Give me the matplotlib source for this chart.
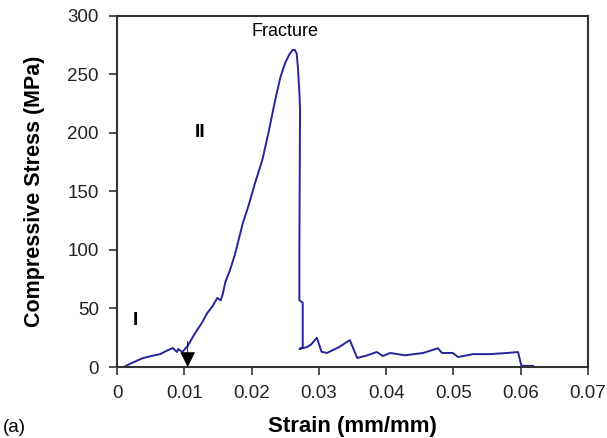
import matplotlib
matplotlib.use("Agg")
import matplotlib.pyplot as plt

plt.rcParams['font.family'] = ['Liberation Sans', 'DejaVu Sans']

# Compressive stress-strain curve
strain = [0.0010, 0.0019, 0.0030, 0.0039, 0.0052, 0.0064, 0.0076, 0.0083, 0.0089,
          0.0091, 0.0097, 0.0105, 0.0115, 0.0126, 0.0134, 0.0142, 0.0149, 0.0154,
          0.0157, 0.0161, 0.0168, 0.0175, 0.0187, 0.0195, 0.0205, 0.0216, 0.0225,
          0.0235, 0.0243, 0.0250, 0.0256, 0.0261, 0.0264, 0.0267, 0.0269, 0.0271,
          0.0272, 0.0271, 0.0271, 0.0276, 0.0276, 0.0271, 0.0282, 0.0288, 0.0297,
          0.0304, 0.0312, 0.0330, 0.0346, 0.0357, 0.0372, 0.0386, 0.0395, 0.0406,
          0.0428, 0.0455, 0.0477, 0.0483, 0.0499, 0.0507, 0.0529, 0.0554, 0.0580,
          0.0596, 0.0601, 0.0618]
stress = [0.0, 2.6, 5.5, 7.7, 9.5, 11.0, 14.5, 16.2, 12.8,
          15.4, 12.8, 18.0, 28.0, 37.6, 46.0, 52.0, 59.0, 57.0,
          62.0, 72.6, 83.0, 95.7, 123.0, 137.0, 157.0, 177.0, 200.0,
          228.0, 248.0, 260.0, 267.0, 271.0, 271.0, 268.0, 255.0, 235.0,
          220.0, 100.0, 57.0, 55.0, 17.0, 15.4, 17.0, 19.0, 25.0,
          13.0, 12.0, 17.0, 23.0, 7.7, 10.0, 12.8, 9.4, 12.0,
          10.0, 12.0, 16.0, 12.0, 12.0, 8.5, 11.0, 11.0, 12.0,
          12.8, 1.0, 1.0]

x_ticks = [0, 0.01, 0.02, 0.03, 0.04, 0.05, 0.06, 0.07]
x_tick_labels = ["0", "0.01", "0.02", "0.03", "0.04", "0.05", "0.06", "0.07"]
y_ticks = [0, 50, 100, 150, 200, 250, 300]

fig = plt.figure(figsize=(6.07, 4.38), dpi=100)
ax = fig.add_axes([0.1928, 0.1621, 0.9687 - 0.1928, 0.9635 - 0.1621])

ax.plot(strain, stress, color='#25259a', lw=1.4)

ax.set_xlim(0, 0.07)
ax.set_ylim(0, 300)
ax.set_xticks(x_ticks)
ax.set_xticklabels(x_tick_labels)
ax.set_yticks(y_ticks)

for s in ax.spines.values():
    s.set_color('#333333')
    s.set_linewidth(1.5)

ax.tick_params(axis='both', direction='out', length=6, width=1.2,
               color='#333333', labelsize=13.5, labelcolor='#222222')
ax.tick_params(axis='x', pad=7)
ax.tick_params(axis='y', pad=7)

ax.set_xlabel("Strain (mm/mm)", fontsize=16, fontweight='bold', labelpad=10)
ax.set_ylabel("Compressive Stress (MPa)", fontsize=15.5, fontweight='bold', labelpad=16)

ax.text(0.0250, 287, "Fracture", fontsize=13, ha='center', va='center')
ax.text(0.0123, 200, "II", fontsize=14, fontweight='bold', ha='center', va='center')
ax.text(0.0028, 40, "I", fontsize=14, fontweight='bold', ha='center', va='center')

# Onset marker between regions I and II
ax.annotate("", xy=(0.0105, 0), xytext=(0.0105, 22),
            arrowprops=dict(arrowstyle='-|>', color='black', lw=0.6,
                            mutation_scale=24, shrinkA=0, shrinkB=0))

fig.text(0.005, 0.005, "(a)", fontsize=13.5, ha='left', va='bottom')

fig.savefig("out.png", dpi=100)
